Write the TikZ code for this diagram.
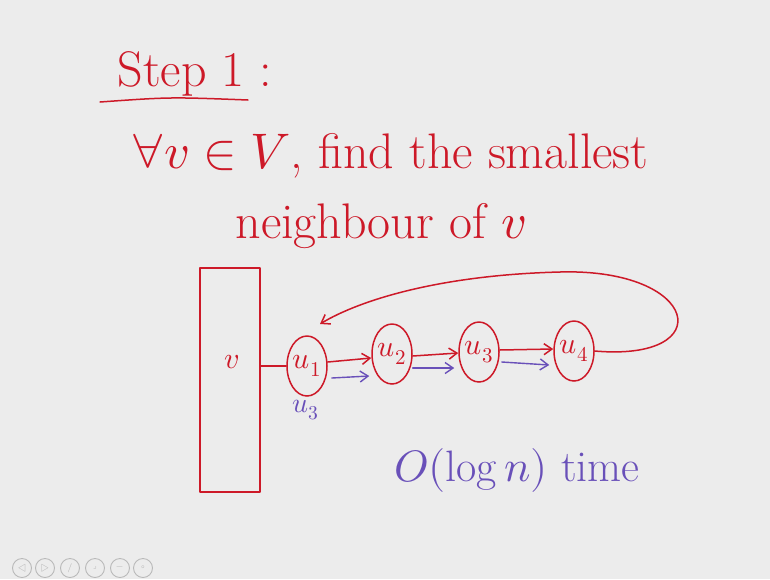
\documentclass[tikz,border=0pt]{standalone}
\usepackage{amsmath}
\usepackage{unicode-math}
\usetikzlibrary{shapes.geometric,arrows.meta}
\definecolor{board}{RGB}{236,236,236}
\definecolor{inkred}{RGB}{205,25,40}
\definecolor{inkpurple}{RGB}{105,80,185}

\tikzset{
  ink/.style={inkred, line width=1.5pt, line cap=round, line join=round},
  pen/.style={inkpurple, line width=1.4pt, line cap=round},
  vertex/.style={ink, draw, ellipse, minimum width=40pt, minimum height=60pt, inner sep=0pt},
  handtip/.style={-{Straight Barb[length=8pt,width=11pt]}},
  big/.style={text=inkred, font=\fontsize{50}{56}\selectfont},
  mid/.style={font=\fontsize{30}{34}\selectfont},
  icon/.style={draw=gray!55, line width=0.9pt, circle, minimum size=19pt, inner sep=0pt, text=gray!65, font=\fontsize{9}{10}\selectfont}
}

\begin{document}
\begin{tikzpicture}[x=1pt, y=-1pt]
    % board
    \fill[board] (0,0) rectangle (770,579);
    \useasboundingbox (0,0) rectangle (770,579);

    % heading
    \node[big, anchor=base west] (step) at (114,86) {Step 1 :};
    \draw[ink] (100,102) .. controls (170,97) .. (248,100);

    \node[big, anchor=base west] (line1) at (128,168) {$\forall v\in V$, find the smallest};
    \node[big, anchor=base west] (line2) at (232,238) {neighbour of $v$};

    % adjacency list of v
    \node[ink, draw, minimum width=60pt, minimum height=224pt] (vbox) at (230,380) {};
    \node[big, mid] (v) at (232,362) {$v$};

    \node[vertex] (u1) at (307,366) {};
    \node[vertex] (u2) at (392,354) {};
    \node[vertex] (u3) at (479,352) {};
    \node[vertex] (u4) at (574,351) {};
    \foreach \i in {1,...,4}
        \node[text=inkred, mid] (t\i) at (u\i) {$u_{\i}$};

    \draw[ink] (u1.west -| vbox.east) -- (u1.west);
    \draw[ink, handtip] ([yshift=4pt]u1.east) -- ([yshift=-4pt]u2.west);
    \draw[ink, handtip] ([yshift=-2pt]u2.east) -- ([yshift=-1pt]u3.west);
    \draw[ink, handtip] ([yshift=2pt]u3.east) -- ([yshift=2pt]u4.west);

    % back pointer to the head
    \coordinate (back) at (320,324);
    \draw[ink, handtip] (u4.east) .. controls (720,362) and (700,268) .. (560,272)
        .. controls (440,275) and (360,300) .. (back);

    % pointer jumping (purple)
    \draw[pen, handtip] ([shift={(4,12)}]u1.east) -- ([shift={(-2,22)}]u2.west);
    \draw[pen, handtip] ([shift={(0,14)}]u2.east) -- ([shift={(-4,16)}]u3.west);
    \draw[pen, handtip] ([shift={(2,10)}]u3.east) -- ([shift={(-4,14)}]u4.west);
    \node[text=inkpurple, font=\fontsize{28}{30}\selectfont] (lbl) at (306,410) {$u_3$};

    \node[text=inkpurple, font=\fontsize{44}{50}\selectfont] (cost) at (517,470) {$O(\log n)$ time};

    % player toolbar
    \foreach \x/\s [count=\k] in {22/{$\triangleleft$}, 45/{$\triangleright$}, 70/{/}, 95/{$\lrcorner$}, 120/{$-$}, 143/{$\circ$}}
        \node[icon] (tb\k) at (\x,568) {\s};
\end{tikzpicture}
\end{document}
